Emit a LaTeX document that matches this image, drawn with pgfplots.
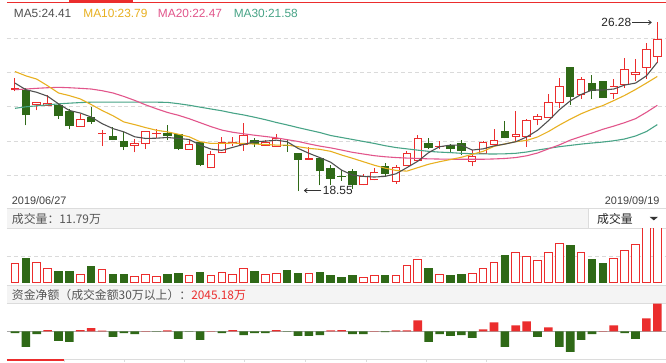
\documentclass[border=0pt]{standalone}
\usepackage{pgfplots}
\pgfplotsset{compat=1.18}
\usepackage{pgfplotstable}
\usepackage{fontspec}
\setmainfont{Liberation Sans}
\newfontfamily\cjk{Noto Sans CJK SC}
\usetikzlibrary{arrows.meta}
\definecolor{cred}{RGB}{235,45,45}
\definecolor{cgreen}{RGB}{47,105,23}
\definecolor{ma5c}{HTML}{505050}
\definecolor{ma10c}{HTML}{E8B020}
\definecolor{ma20c}{HTML}{E2558B}
\definecolor{ma30c}{HTML}{48A487}
\definecolor{gridc}{HTML}{DADADA}
\definecolor{linec}{HTML}{DCDCDC}
\definecolor{bandc}{HTML}{F4F4F4}
\definecolor{basec}{HTML}{A8A8A8}
\definecolor{txtc}{HTML}{555555}
\newcommand\fs{\fontsize{12bp}{14bp}\selectfont}
\newcommand\fss{\fontsize{11bp}{13bp}\selectfont}

% red (rising) candles: index open high low close
\pgfplotstableread{
i o h l c
0 23.154 23.709 23.108 23.244
2 22.504 22.626 22.233 22.612
3 22.459 22.942 22.432 22.594
6 21.497 22.084 21.497 21.858
8 21.150 21.348 20.608 21.227
11 20.626 20.924 20.324 20.762
12 20.699 21.303 20.473 21.303
13 21.150 21.407 20.987 21.213
16 20.446 20.911 20.446 20.717
18 19.588 20.369 19.588 20.265
19 20.279 21.033 20.279 20.807
20 20.685 21.033 20.608 20.807
21 20.653 21.664 20.401 21.136
23 20.626 20.879 20.626 20.807
24 20.581 21.181 20.581 20.987
27 19.995 20.581 19.995 20.085
32 18.821 19.331 18.821 19.227
33 19.047 19.588 19.047 19.408
35 18.970 19.724 18.893 19.647
36 19.679 20.383 19.679 20.279
37 19.949 21.105 19.949 20.987
39 20.572 20.820 20.459 20.631
42 19.904 20.428 19.679 20.175
43 20.234 20.843 20.234 20.798
44 20.663 21.407 20.663 20.888
46 21.033 22.229 20.807 21.172
47 21.037 21.858 20.581 21.804
48 21.813 22.084 21.556 22.003
49 21.890 23.000 21.890 22.612
50 22.567 23.709 22.364 23.334
52 22.919 23.745 22.775 23.655
55 22.964 23.650 22.748 23.361
56 23.402 24.643 23.280 24.106
57 23.867 24.602 23.573 23.971
58 24.192 25.311 23.677 25.049
59 24.688 26.280 24.395 25.500
}\redc

% green (falling) candles
\pgfplotstableread{
i o h l c
1 23.167 23.257 21.556 22.007
4 22.490 22.549 21.858 21.962
5 22.206 22.310 21.376 21.511
7 21.917 22.386 21.633 21.691
9 21.091 21.484 20.879 20.879
10 20.834 21.258 20.428 20.563
14 21.195 21.588 20.879 21.060
15 21.168 21.168 20.428 20.459
17 20.807 20.807 19.679 19.751
22 20.866 20.987 20.581 20.717
25 20.644 20.879 20.356 20.599
26 20.279 20.279 18.550 19.977
28 20.053 20.053 18.821 19.453
29 19.602 19.751 18.848 19.119
30 19.254 19.512 19.029 19.209
31 19.480 19.557 18.668 18.848
34 19.706 19.828 19.254 19.345
38 20.730 20.987 20.459 20.505
40 20.640 20.717 20.279 20.473
41 20.730 20.888 20.211 20.383
45 21.308 21.768 20.965 20.965
51 24.196 24.196 22.499 22.865
53 23.483 23.844 22.775 23.136
54 23.582 23.582 22.806 22.806
}\grnc

% moving averages
\pgfplotstableread{
i ma5 ma10 ma20 ma30
0 23.483 24.011 23.181 22.332
1 23.181 23.813 23.212 22.400
2 23.063 23.664 23.244 22.445
3 22.883 23.361 23.271 22.490
4 22.535 23.032 23.289 22.535
5 22.233 22.910 23.271 22.567
6 22.116 22.761 23.244 22.594
7 21.935 22.504 23.212 22.612
8 21.633 22.233 23.136 22.617
9 21.407 21.994 23.032 22.617
10 21.258 21.710 22.874 22.617
11 21.033 21.588 22.693 22.617
12 20.956 21.452 22.490 22.617
13 20.969 21.330 22.310 22.612
14 21.001 21.258 22.143 22.603
15 20.956 21.150 22.016 22.544
16 20.911 21.033 21.858 22.472
17 20.653 20.807 21.678 22.386
18 20.473 20.730 21.497 22.301
19 20.414 20.730 21.339 22.219
20 20.550 20.744 21.240 22.116
21 20.685 20.730 21.168 22.030
22 20.807 20.699 21.105 21.926
23 20.834 20.685 21.046 21.813
24 20.879 20.653 20.987 21.687
25 20.807 20.653 20.902 21.574
26 20.505 20.581 20.820 21.452
27 20.279 20.505 20.708 21.339
28 20.085 20.459 20.608 21.227
29 19.873 20.369 20.527 21.091
30 19.512 20.202 20.428 21.001
31 19.286 20.053 20.324 20.911
32 19.227 19.895 20.247 20.820
33 19.196 19.737 20.171 20.730
34 19.227 19.602 20.121 20.626
35 19.345 19.498 20.085 20.541
36 19.625 19.467 20.062 20.482
37 19.918 19.625 20.044 20.423
38 20.311 19.782 20.026 20.369
39 20.581 19.895 20.017 20.333
40 20.653 19.995 20.008 20.311
41 20.653 20.098 20.008 20.279
42 20.428 20.234 20.008 20.261
43 20.482 20.369 20.008 20.252
44 20.617 20.595 20.022 20.247
45 20.699 20.708 20.044 20.256
46 20.807 20.811 20.085 20.279
47 21.024 20.866 20.166 20.338
48 21.330 21.024 20.292 20.428
49 21.768 21.272 20.482 20.505
50 22.265 21.565 20.663 20.581
51 22.671 21.836 20.879 20.640
52 22.964 22.084 21.046 20.699
53 23.167 22.287 21.204 20.748
54 23.167 22.459 21.376 20.793
55 23.212 22.684 21.520 20.852
56 23.393 22.919 21.678 20.933
57 23.483 23.190 21.858 21.069
58 23.813 23.483 22.150 21.272
59 24.431 23.786 22.468 21.588
}\ma

% volume (10k), rising days
\pgfplotstableread{
i v
0 2.85
2 3.10
3 2.16
6 1.26
8 2.01
11 0.96
12 1.26
13 0.96
16 1.11
18 1.11
19 1.56
20 1.30
21 2.16
23 1.30
24 1.45
27 1.45
32 0.81
33 1.11
35 1.15
36 2.65
37 3.51
39 1.26
42 1.45
43 2.16
44 3.06
46 4.56
47 3.96
48 3.36
49 4.56
50 5.91
52 4.56
55 3.66
56 4.86
57 5.76
58 9.50
59 11.79
}\redv

% volume, falling days
\pgfplotstableread{
i v
1 3.70
4 1.75
5 1.75
7 2.50
9 1.30
10 1.30
14 1.30
15 1.45
17 1.60
22 1.75
25 1.90
26 1.45
28 1.60
29 1.00
30 0.70
31 1.00
34 1.00
38 2.20
40 1.15
41 1.30
45 4.15
51 5.65
53 3.55
54 2.95
}\grnv

% net capital flow (10k), positive
\pgfplotstableread{
i n
3 95
6 95
7 241
8 51
12 22
14 73
18 22
20 95
24 95
29 73
30 95
33 22
35 73
36 73
37 803
43 146
44 657
46 438
47 730
49 292
54 22
55 438
58 950
59 2045.18
}\posn

% net capital flow, negative
\pgfplotstableread{
i n
0 -124
1 -1147
2 -197
4 -708
5 -782
9 -416
10 -124
11 -197
13 -22
15 -562
16 -22
17 -635
19 -124
21 -270
22 -124
23 -124
25 -22
26 -343
27 -343
28 -270
31 -197
32 -197
34 -51
38 -782
39 -197
40 -343
41 -270
42 -489
45 -1147
48 -416
50 -1147
51 -1512
52 -635
53 -197
56 -124
57 -562
}\negn

\begin{document}
\begin{tikzpicture}[x=1bp,y=1bp]
\fill[white] (0,0) rectangle (666,366);

% bands
\fill[bandc] (0,135) rectangle (666,155);
\draw[linec, line width=0.8bp] (0,155)--(666,155) (0,135)--(666,135);
\fill[white] (588.3,135.4) rectangle (666,154.6);
\draw[linec, line width=0.8bp] (588.3,135)--(588.3,155);
\fill[bandc] (0,59) rectangle (666,77.5);
\draw[linec, line width=0.8bp] (0,77.5)--(666,77.5) (0,59)--(666,59);

% top and bottom decorations
\draw[cred, line width=1bp] (0,363)--(666,363);
\fill[cred] (63,363) rectangle (128,366);
\draw[linec, line width=0.8bp] (0,2.7)--(666,2.7);
\draw[cred, line width=2bp] (0,1.6)--(58.3,1.6);
\foreach \xx in {58.3,119.3,180,240.7,301.7,363.3,424.3,485}
  \draw[linec, line width=0.8bp] (\xx,0)--(\xx,2.7);

% ---------------- price panel ----------------
\begin{axis}[at={(0bp,155bp)}, anchor=south west, scale only axis,
  width=666bp, height=206.5bp,
  xmin=-0.754, xmax=59.754, ymin=17.752, ymax=27.071,
  axis line style={draw=none}, tick style={draw=none}, major tick length=0pt,
  xtick=\empty, ytick={19.286,20.843,22.400,23.957,25.514}, yticklabels={},
  ymajorgrids, grid style={draw=gridc, dash pattern=on 4bp off 3bp, line width=0.8bp}]
% wicks
\addplot[draw=none, mark=none, forget plot,
  error bars/.cd, y dir=plus, y explicit, error mark=none,
  error bar style={draw=cred, line width=1bp}]
  table[x=i, y=l, y error plus expr=\thisrow{h}-\thisrow{l}] {\redc};
\addplot[draw=none, mark=none, forget plot,
  error bars/.cd, y dir=plus, y explicit, error mark=none,
  error bar style={draw=cgreen, line width=1bp}]
  table[x=i, y=l, y error plus expr=\thisrow{h}-\thisrow{l}] {\grnc};
% bodies
\addplot[draw=none, mark=none, forget plot,
  error bars/.cd, y dir=plus, y explicit, error mark=none,
  error bar style={draw=cred, line width=8.6bp}]
  table[x=i, y=o, y error plus expr={max(\thisrow{c}-\thisrow{o},0.045)}] {\redc};
\addplot[draw=none, mark=none, forget plot,
  error bars/.cd, y dir=plus, y explicit, error mark=none,
  error bar style={draw=white, line width=6.6bp}]
  table[x=i, y expr=\thisrow{o}+0.045, y error plus expr={max(\thisrow{c}-\thisrow{o}-0.09,0)}] {\redc};
\addplot[draw=none, mark=none, forget plot,
  error bars/.cd, y dir=plus, y explicit, error mark=none,
  error bar style={draw=cgreen, line width=8.6bp}]
  table[x=i, y=c, y error plus expr={max(\thisrow{o}-\thisrow{c},0.045)}] {\grnc};
% moving averages
\addplot[ma30c, line width=1.1bp, mark=none] table[x=i, y=ma30] {\ma};
\addplot[ma20c, line width=1.1bp, mark=none] table[x=i, y=ma20] {\ma};
\addplot[ma10c, line width=1.1bp, mark=none] table[x=i, y=ma10] {\ma};
\addplot[ma5c, line width=1.1bp, mark=none] table[x=i, y=ma5] {\ma};
\end{axis}

% ---------------- volume panel ----------------
\begin{axis}[at={(0bp,79.5bp)}, anchor=south west, scale only axis,
  width=666bp, height=55.5bp,
  xmin=-0.754, xmax=59.754, ymin=-0.12, ymax=8.205,
  axis line style={draw=none}, tick style={draw=none}, major tick length=0pt,
  xtick=\empty, ytick={4.0}, yticklabels={},
  ymajorgrids, grid style={draw=gridc, dash pattern=on 4bp off 3bp, line width=0.8bp}]
\addplot[ybar, bar shift=0pt, bar width=7.7bp, draw=cred, fill=white, line width=1bp]
  table[x=i, y=v] {\redv};
\addplot[ybar, bar shift=0pt, bar width=7.7bp, draw=cgreen, fill=cgreen, line width=1bp]
  table[x=i, y=v] {\grnv};
\end{axis}

% ---------------- net flow panel ----------------
\begin{axis}[at={(0bp,3bp)}, anchor=south west, scale only axis,
  width=666bp, height=56bp,
  xmin=-0.754, xmax=59.754, ymin=-2045.18, ymax=2045.18,
  axis line style={draw=none}, tick style={draw=none}, major tick length=0pt,
  xtick=\empty, ytick={0}, yticklabels={},
  ymajorgrids, grid style={draw=basec, line width=1bp}]
\addplot[ybar, bar shift=0pt, bar width=8.7bp, draw=none, fill=cred]
  table[x=i, y=n] {\posn};
\addplot[ybar, bar shift=0pt, bar width=8.7bp, draw=none, fill=cgreen]
  table[x=i, y=n] {\negn};
\end{axis}

% ---------------- texts ----------------
\node[anchor=west, inner sep=0pt, text=ma5c] at (7,352.5) {\fs MA5:24.41};
\node[anchor=west, inner sep=0pt, text=ma10c] at (77.3,352.5) {\fs MA10:23.79};
\node[anchor=west, inner sep=0pt, text=ma20c] at (152.7,352.5) {\fs MA20:22.47};
\node[anchor=west, inner sep=0pt, text=ma30c] at (229.3,352.5) {\fs MA30:21.58};

\node[anchor=west, inner sep=0pt, text=black!75] at (5,163.5) {\fss 2019/06/27};
\node[anchor=east, inner sep=0pt, text=black!75] at (660,163.5) {\fss 2019/09/19};

\draw[-{To[length=3.5bp,width=5bp]}, black!80, line width=0.8bp] (318,173.3)--(300.5,173.3);
\node[anchor=west, inner sep=0pt, text=black!85] at (319.5,173.3) {\fs 18.55};
\node[anchor=east, inner sep=0pt, text=black!85] at (631.5,343.3) {\fs 26.28};
\draw[-{To[length=3.5bp,width=5bp]}, black!80, line width=0.8bp] (632.5,343.3)--(652,343.3);

\node[anchor=west, inner sep=0pt, text=txtc] at (5,145) {\fs\cjk 成交量：11.79万};
\node[anchor=west, inner sep=0pt, text=black!85] at (596.7,145) {\fs\cjk 成交量};
\fill[black!80] (650,146.7)--(658.3,146.7)--(654.2,143.2)--cycle;
\node[anchor=west, inner sep=0pt, text=txtc] at (5,68.2) {\fs\cjk 资金净额（成交金额30万以上）：\textcolor{cred}{2045.18万}};
\end{tikzpicture}
\end{document}
